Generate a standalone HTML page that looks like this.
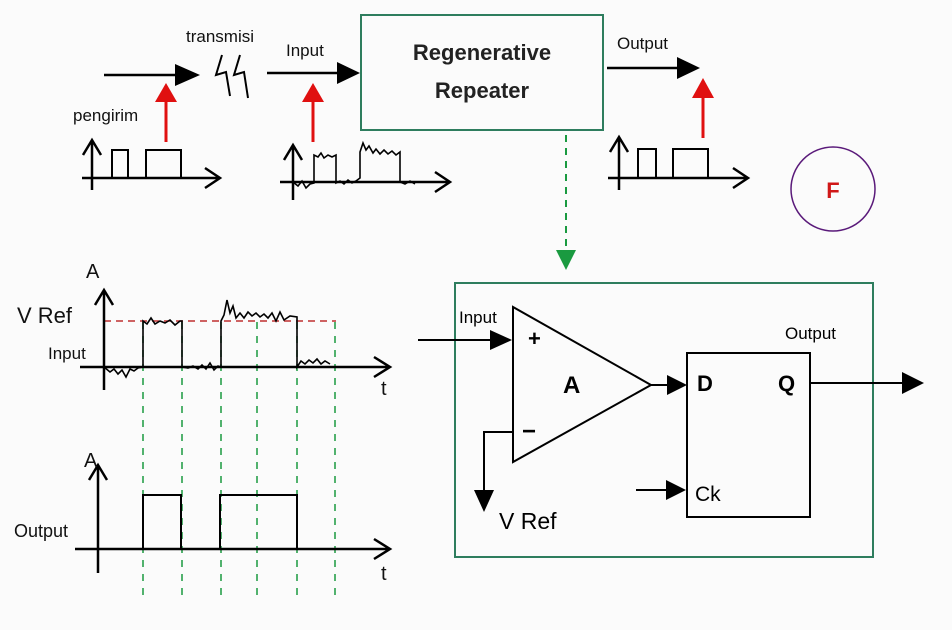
<!DOCTYPE html>
<html><head><meta charset="utf-8"><style>
html,body{margin:0;padding:0;background:#fbfbfb;}
svg{display:block;font-family:"Liberation Sans",sans-serif;}
</style></head><body>
<svg width="952" height="630" viewBox="0 0 952 630" xmlns="http://www.w3.org/2000/svg">
<rect width="952" height="630" fill="#fbfbfb"/>
<g stroke="#000" stroke-width="2.5" fill="none">
<line x1="104" y1="75" x2="178" y2="75"/>
<line x1="267" y1="73" x2="340" y2="73"/>
<line x1="607" y1="68" x2="680" y2="68"/>
<path d="M222 55 L216 75 L226 72 L230 96 M240 55 L234 75 L244 72 L248 98" stroke-width="2"/>
<path d="M92 190 V140 M83 155 L92 140 L101 155"/>
<path d="M82 178 H220 M205 168 L220 178 L205 188"/>
<path d="M112 178 V150 H128 V178 M146 178 V150 H181 V178" stroke-width="2"/>
<path d="M293 200 V145 M284 160 L293 145 L302 160"/>
<path d="M280 182 H450 M435 172 L450 182 L435 192"/>
<path d="M293 182 L298 186 L302 181 L306 188 L310 184 L314 183 L314 155 L318 157 L321 153 L324 158 L328 155 L332 157 L336 155 L336 183 L340 181 L344 184 L348 180 L352 183 L356 181 L360 178 L360 152 L363 143 L366 150 L369 146 L373 153 L376 149 L380 154 L384 150 L388 154 L392 151 L396 155 L400 152 L400 182 L405 184 L410 181 L415 184" stroke-width="1.6"/>
<path d="M619 190 V137 M610 152 L619 137 L628 152"/>
<path d="M608 178 H748 M733 168 L748 178 L733 188"/>
<path d="M638 178 V149 H656 V178 M673 178 V149 H708 V178" stroke-width="2"/>
</g>
<g fill="#000">
<polygon points="175,64 200,75 175,86"/>
<polygon points="337,62 360,73 337,84"/>
<polygon points="677,57 700,68 677,79"/>
</g>
<g stroke="#e01010" stroke-width="3"><line x1="166" y1="142" x2="166" y2="100"/><line x1="313" y1="142" x2="313" y2="100"/><line x1="703" y1="138" x2="703" y2="95"/></g>
<g fill="#e01010"><polygon points="155,102 166,83 177,102"/><polygon points="302,102 313,83 324,102"/><polygon points="692,98 703,78 714,98"/></g>
<g font-size="17" fill="#111"><text x="186" y="42">transmisi</text><text x="286" y="56">Input</text><text x="73" y="121">pengirim</text><text x="617" y="49">Output</text></g>
<rect x="361" y="15" width="242" height="115" fill="#fbfbfb" stroke="#2e7d5e" stroke-width="2"/>
<text x="482" y="60" font-size="22" font-weight="bold" text-anchor="middle" fill="#222">Regenerative</text>
<text x="482" y="98" font-size="22" font-weight="bold" text-anchor="middle" fill="#222">Repeater</text>
<line x1="566" y1="135" x2="566" y2="250" stroke="#1a9a40" stroke-width="2" stroke-dasharray="7,6"/>
<polygon points="556,250 576,250 566,270" fill="#1a9a40"/>
<circle cx="833" cy="189" r="42" fill="none" stroke="#5a1a7a" stroke-width="1.5"/>
<text x="833" y="198" font-size="22" font-weight="bold" fill="#d01818" text-anchor="middle">F</text>
<rect x="455" y="283" width="418" height="274" fill="none" stroke="#2e7d5e" stroke-width="2"/>
<g stroke="#000" stroke-width="2" fill="none">
<polygon points="513,307 513,462 651,385"/>
<rect x="687" y="353" width="123" height="164"/>
<line x1="418" y1="340" x2="495" y2="340"/>
<path d="M513 432 H484 V492"/>
<line x1="651" y1="385" x2="672" y2="385"/>
<line x1="636" y1="490" x2="672" y2="490"/>
<line x1="810" y1="383" x2="905" y2="383"/>
</g>
<g fill="#000">
<polygon points="490,330 512,340 490,350"/>
<polygon points="474,490 494,490 484,512"/>
<polygon points="667,375 687,385 667,395"/>
<polygon points="666,480 686,490 666,500"/>
<polygon points="902,372 924,383 902,394"/>
</g>
<text x="528" y="346" font-size="22" font-weight="bold">+</text>
<text x="522" y="439" font-size="24" font-weight="bold">−</text>
<text x="563" y="393" font-size="24" font-weight="bold">A</text>
<text x="697" y="391" font-size="22" font-weight="bold">D</text>
<text x="778" y="391" font-size="22" font-weight="bold">Q</text>
<text x="695" y="501" font-size="21">Ck</text>
<text x="459" y="323" font-size="17">Input</text>
<text x="785" y="339" font-size="17">Output</text>
<text x="499" y="529" font-size="23">V Ref</text>
<g stroke="#1a9a40" stroke-width="1.5" stroke-dasharray="7,7">
<line x1="143" y1="322" x2="143" y2="598"/><line x1="182" y1="322" x2="182" y2="598"/><line x1="221" y1="322" x2="221" y2="598"/><line x1="257" y1="322" x2="257" y2="598"/><line x1="297" y1="322" x2="297" y2="598"/><line x1="335" y1="322" x2="335" y2="598"/>
</g>
<line x1="104" y1="321" x2="336" y2="321" stroke="#c03030" stroke-width="1.5" stroke-dasharray="7,5"/>
<g stroke="#000" stroke-width="2.5" fill="none">
<path d="M104 390 V290 M95 305 L104 290 L113 305"/>
<path d="M80 367 H390 M374 357 L390 367 L374 377"/>
<path d="M98 573 V465 M89 480 L98 465 L107 480"/>
<path d="M75 549 H390 M374 539 L390 549 L374 559"/>
<path d="M143 549 V495 H181 V549 M220 549 V495 H297 V549" stroke-width="2"/>
<path d="M104 367 L110 372 L114 369 L118 374 L122 370 L126 377 L130 369 L134 371 L138 368 L143 367 L143 321 L147 324 L151 318 L155 324 L160 321 L165 323 L170 320 L175 325 L180 321 L182 321 L182 367 L188 368 L193 366 L198 369 L202 365 L206 369 L210 363 L214 370 L218 366 L221 367 L221 321 L224 315 L227 300 L230 313 L233 306 L236 318 L240 313 L244 318 L248 312 L252 316 L256 313 L260 317 L264 314 L268 318 L272 313 L276 321 L280 312 L284 320 L290 316 L297 317 L297 367 L301 361 L305 364 L309 360 L313 363 L317 359 L321 364 L325 361 L330 364" stroke-width="1.6"/>
</g>
<g font-size="22" fill="#111">
<text x="17" y="323">V Ref</text>
<text x="86" y="278" font-size="20">A</text>
<text x="381" y="395" font-size="20">t</text>
<text x="84" y="467" font-size="20">A</text>
<text x="381" y="580" font-size="20">t</text>
<text x="48" y="359" font-size="17">Input</text>
<text x="14" y="537" font-size="18">Output</text>
</g>
</svg>
</body></html>
